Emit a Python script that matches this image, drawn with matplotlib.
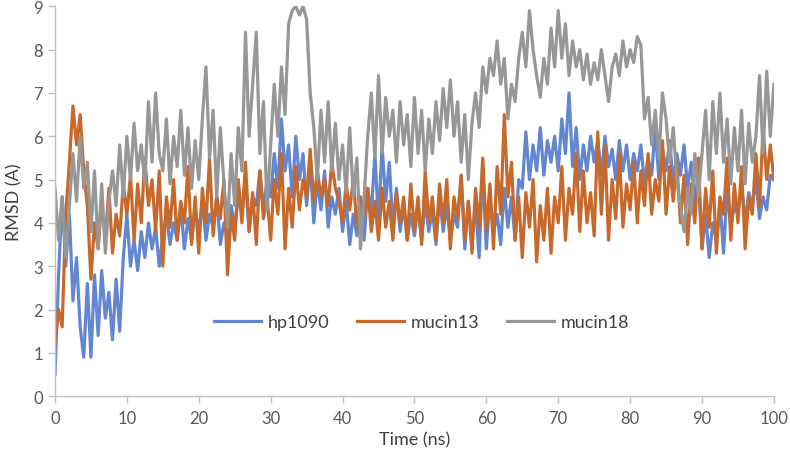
import numpy as np
import matplotlib as mpl
import matplotlib.pyplot as plt

# tiempo (ns), paso 0.5
t = np.arange(0, 100.5, 0.5)

# hp1090 (azul)
hp1090 = [0.5, 2.8, 4.6, 3.0, 4.2, 2.2, 3.2, 1.6, 0.9, 2.6,
          0.9, 2.8, 1.4, 2.9, 1.8, 2.4, 1.3, 2.7, 1.5, 3.2,
          4.2, 3.0, 3.6, 2.9, 3.8, 3.2, 4.0, 3.4, 3.9, 3.0,
          3.7, 4.2, 3.5, 4.0, 3.6, 4.4, 3.4, 4.1, 3.6, 4.3,
          3.8, 4.5, 3.6, 4.2, 3.9, 4.6, 3.5, 4.0, 3.6, 4.4,
          3.9, 4.6, 4.2, 5.0, 3.8, 4.6, 4.4, 5.2, 4.3, 5.0,
          4.6, 5.6, 4.8, 6.4, 5.2, 5.8, 4.6, 6.0, 5.0, 5.6,
          4.4, 5.4, 4.0, 5.0, 4.3, 5.2, 3.9, 4.6, 4.2, 4.8,
          3.8, 4.5, 3.5, 4.2, 3.7, 4.4, 3.6, 4.8, 4.2, 5.6,
          4.0, 5.8, 4.5, 5.4, 3.9, 4.8, 3.8, 4.4, 3.6, 4.2,
          3.7, 4.4, 3.6, 4.5, 3.8, 4.3, 3.5, 4.6, 3.8, 4.4,
          3.6, 4.2, 3.9, 5.1, 3.4, 4.5, 3.6, 4.4, 3.2, 5.3,
          3.4, 4.6, 3.8, 4.2, 3.5, 4.8, 3.9, 4.6, 3.6, 5.0,
          4.8, 6.1, 5.0, 5.8, 5.2, 6.2, 5.1, 5.9, 5.4, 6.0,
          5.2, 6.4, 5.6, 7.0, 5.3, 6.2, 5.0, 5.8, 5.2, 6.0,
          5.4, 5.9, 5.1, 6.0, 5.3, 5.7, 5.0, 5.9, 5.2, 5.8,
          5.0, 5.6, 5.2, 5.8, 4.9, 5.5, 5.1, 6.2, 5.0, 5.7,
          5.2, 5.9, 4.9, 5.6, 5.1, 5.8, 4.8, 5.4, 4.5, 5.0,
          3.4, 4.2, 3.2, 4.0, 3.6, 4.5, 3.3, 4.8, 3.9, 4.4,
          4.2, 4.9, 4.0, 4.7, 4.4, 5.0, 4.1, 4.6, 4.3, 5.1,
          5.0]

# mucin13 (naranja)
mucin13 = [1.2, 2.0, 1.6, 4.2, 5.4, 6.7, 5.8, 6.5, 5.2, 4.4,
           2.7, 4.0, 3.4, 4.5, 3.6, 4.8, 3.3, 4.2, 3.7, 4.9,
           4.2, 5.1, 3.6, 4.9, 4.0, 5.5, 4.4, 5.0, 3.8, 5.2,
           3.0, 4.6, 3.9, 5.0, 3.6, 4.5, 4.0, 5.3, 3.5, 4.6,
           3.3, 4.8, 4.0, 5.5, 3.7, 4.6, 4.1, 5.0, 2.8, 4.2,
           3.6, 5.0, 4.0, 5.4, 3.8, 4.7, 3.5, 5.2, 4.1, 4.6,
           3.6, 5.0, 4.2, 5.6, 3.4, 4.8, 3.9, 5.3, 4.3, 5.0,
           4.6, 5.7, 4.5, 5.2, 4.6, 5.0, 4.4, 5.4, 4.8, 4.5,
           4.0, 4.9, 4.3, 5.0, 3.9, 4.6, 4.1, 4.8, 3.8, 4.5,
           3.6, 4.8, 3.9, 4.5, 3.6, 4.7, 4.0, 4.6, 3.6, 4.9,
           3.8, 4.6, 3.5, 5.2, 4.0, 4.6, 3.6, 4.9, 4.0, 5.0,
           3.4, 4.6, 4.1, 5.1, 3.6, 4.5, 3.3, 4.8, 3.9, 5.5,
           3.8, 4.9, 3.4, 5.3, 4.2, 6.5, 4.6, 5.4, 3.6, 4.6,
           3.2, 4.7, 3.9, 5.0, 3.1, 4.4, 3.6, 4.8, 3.3, 4.6,
           4.0, 5.3, 3.6, 4.8, 4.2, 5.6, 3.8, 5.2, 4.0, 4.7,
           3.7, 6.1, 4.2, 5.8, 3.6, 5.0, 4.1, 5.6, 3.9, 4.9,
           4.3, 5.4, 4.0, 5.2, 4.4, 5.6, 4.2, 5.0, 4.5, 5.9,
           4.2, 5.3, 4.5, 5.4, 4.0, 5.1, 3.5, 4.9, 4.0, 5.5,
           3.4, 4.8, 3.9, 5.2, 3.3, 4.6, 4.2, 5.5, 3.6, 4.9,
           4.0, 5.3, 3.4, 4.6, 4.2, 5.6, 4.4, 6.2, 5.0, 5.8,
           5.0]

# mucin18 (gris)
mucin18 = [4.8, 3.6, 4.6, 3.2, 4.4, 5.6, 4.5, 6.0, 4.8, 5.4,
           3.8, 5.2, 3.4, 4.9, 3.3, 4.5, 5.2, 4.4, 5.8, 4.6,
           6.0, 5.0, 6.3, 5.2, 5.8, 4.9, 6.8, 5.4, 7.0, 5.6,
           5.2, 6.4, 4.9, 6.0, 5.3, 6.6, 5.1, 6.2, 4.8, 5.9,
           5.0, 6.4, 7.6, 5.5, 6.6, 4.6, 6.2, 4.9, 3.9, 5.6,
           4.4, 6.2, 5.2, 8.4, 6.0, 7.2, 8.4, 5.6, 6.8, 4.3,
           5.8, 7.2, 6.0, 7.6, 6.5, 8.6, 8.9, 9.0, 8.8, 9.0,
           8.7, 7.0, 6.2, 5.0, 6.6, 5.4, 6.8, 5.2, 6.3, 5.0,
           5.8, 4.7, 6.2, 4.6, 5.5, 3.4, 4.6, 6.0, 7.0, 5.5,
           7.4, 5.6, 6.9, 6.0, 6.6, 5.4, 6.8, 5.8, 6.5, 5.3,
           6.9, 5.6, 6.6, 5.2, 6.4, 5.6, 6.8, 5.9, 7.1, 6.2,
           7.3, 6.0, 6.8, 5.4, 6.5, 5.0, 6.3, 7.0, 6.2, 7.6,
           7.0, 7.8, 7.4, 8.2, 7.2, 7.8, 6.4, 7.2, 6.8, 7.8,
           8.4, 7.6, 8.9, 8.0, 7.4, 6.9, 7.8, 7.2, 8.5, 7.6,
           8.9, 7.8, 8.6, 7.4, 8.2, 7.6, 8.0, 7.3, 7.9, 7.2,
           7.7, 7.3, 8.0, 7.4, 6.8, 7.6, 7.9, 7.4, 8.2, 7.6,
           8.0, 7.7, 8.3, 8.1, 6.4, 6.9, 5.8, 6.6, 5.5, 7.0,
           6.4, 5.4, 6.2, 5.0, 4.4, 3.8, 4.8, 4.2, 5.6, 4.6,
           5.6, 6.6, 5.0, 6.8, 5.6, 7.0, 5.4, 6.4, 4.9, 6.2,
           5.2, 6.6, 4.9, 6.3, 5.4, 6.0, 7.4, 5.6, 7.5, 6.0,
           7.2]

series = ['hp1090', 'mucin13', 'mucin18']
colores = ['#6286CF', '#C8692C', '#979797']

plt.rcParams['font.family'] = ['Lato', 'DejaVu Sans']
mpl.rcParams.update({'xtick.labelsize': 12, 'ytick.labelsize': 12, 'font.size': 12})

fig = plt.figure(figsize=(7.9, 4.56), dpi=100)
ax = fig.add_axes([0.0696, 0.129, 0.910, 0.855])

for y, nombre, c in zip([hp1090, mucin13, mucin18], series, colores):
    ax.plot(t, y, color=c, lw=2.3, label=nombre)

ax.set_xlim(0, 100)
ax.set_ylim(0, 9)
ax.set_xticks(range(0, 101, 10))
ax.set_yticks(range(0, 10))
ax.set_xlabel('Time (ns)', fontsize=13, color='#404040', labelpad=4)
ax.set_ylabel('RMSD (A)', fontsize=13, color='#404040', labelpad=8)

for s in ['top', 'right']:
    ax.spines[s].set_visible(False)
for s in ['left', 'bottom']:
    ax.spines[s].set_color('#BFBFBF')
    ax.spines[s].set_linewidth(1.0)
ax.tick_params(colors='#BFBFBF', labelcolor='#595959', length=5, width=1.0, direction='out')
ax.tick_params(axis='x', pad=5)

leg = ax.legend(loc='center', bbox_to_anchor=(0.51, 0.19), ncol=3, frameon=False,
                fontsize=13, handlelength=2.6, handletextpad=0.4, columnspacing=1.5,
                labelcolor='#404040')
for h in leg.get_lines():
    h.set_linewidth(2.3)

fig.savefig('out.png', dpi=100)
